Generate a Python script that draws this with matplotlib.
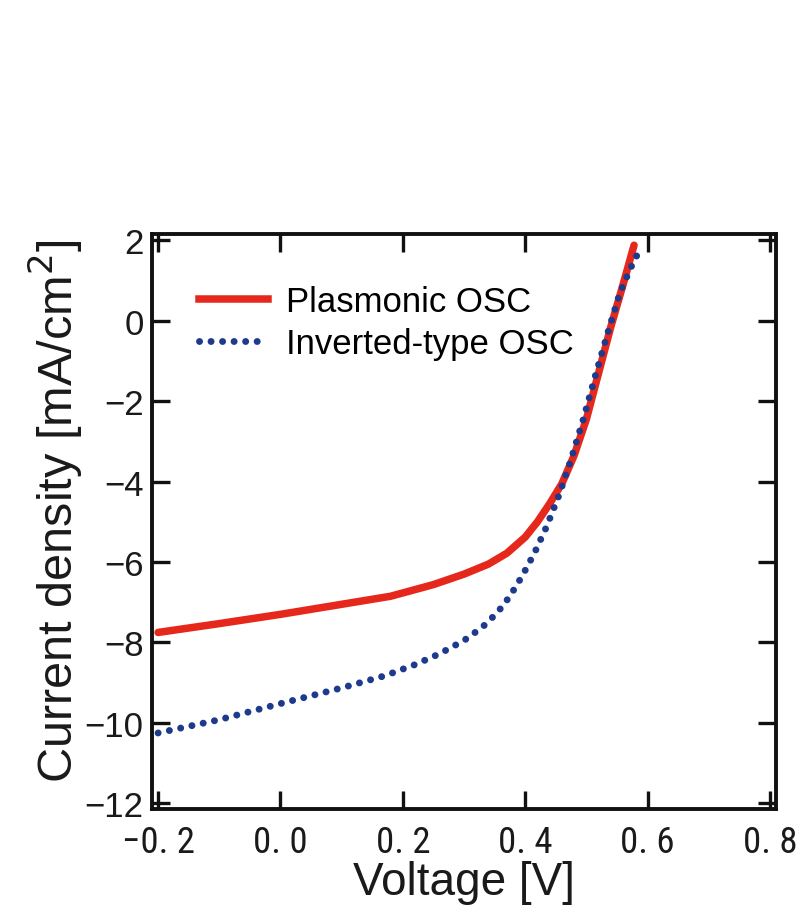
import os
import matplotlib
matplotlib.use("Agg")
import matplotlib.pyplot as plt
from matplotlib import font_manager as fm
from matplotlib.lines import Line2D

# J-V characteristics of the two organic solar cells
voltage_plasmonic = [-0.20, -0.10, 0.00, 0.10, 0.18, 0.25, 0.30, 0.34, 0.37, 0.40,
                     0.42, 0.44, 0.46, 0.48, 0.50, 0.52, 0.54, 0.56, 0.578]
current_plasmonic = [-7.75, -7.53, -7.30, -7.05, -6.85, -6.56, -6.30, -6.05, -5.78, -5.38,
                     -5.00, -4.55, -4.05, -3.35, -2.45, -1.30, -0.15, 0.90, 1.88]

voltage_inverted = [-0.20, -0.10, 0.00, 0.10, 0.17, 0.22, 0.26, 0.30, 0.33, 0.355,
                    0.375, 0.395, 0.415, 0.435, 0.455, 0.475, 0.495, 0.515, 0.535,
                    0.555, 0.572, 0.585]
current_inverted = [-10.25, -9.92, -9.52, -9.13, -8.83, -8.55, -8.28, -7.95, -7.62, -7.25,
                    -6.85, -6.35, -5.78, -5.12, -4.35, -3.45, -2.45, -1.35, -0.30,
                    0.70, 1.30, 1.70]

series_labels = ["Plasmonic OSC", "Inverted-type OSC"]
x_ticks = [-0.2, 0.0, 0.2, 0.4, 0.6, 0.8]
x_tick_labels = ["\u22120. 2", "0. 0", "0. 2", "0. 4", "0. 6", "0. 8"]
y_ticks = [-12, -10, -8, -6, -4, -2, 0, 2]
y_tick_labels = ["\u221212", "\u221210", "\u22128", "\u22126", "\u22124", "\u22122", "0", "2"]

plt.rcParams["font.family"] = ["Liberation Sans", "DejaVu Sans"]
RED = "#e5281b"
BLUE = "#1d3a8d"


def narrow_font():
    """Return a condensed sans-serif face for the voltage tick labels, if installed."""
    preferred = ["Liberation Sans Narrow", "Arial Narrow", "Nimbus Sans Narrow",
                 "Roboto Condensed", "Noto Sans Condensed", "DejaVu Sans Condensed",
                 "Open Sans Condensed"]
    entries = fm.fontManager.ttflist
    for name in preferred:
        for e in entries:
            if e.name == name and e.style == "normal" and e.weight in (400, "normal", "regular"):
                return e.fname
    bad = ("bold", "italic", "oblique", "light", "medium", "thin", "black",
           "semi", "extra", "ultra", "heavy")
    for e in entries:
        fn = os.path.basename(e.fname).lower()
        if ("narrow" in fn or "condensed" in fn) and not any(b in fn for b in bad):
            return e.fname
    return None


fig = plt.figure(figsize=(7.99, 9.20), dpi=100)
ax = fig.add_axes([0.1902, 0.1196, 0.7810, 0.6250])

ax.plot(voltage_plasmonic, current_plasmonic, color=RED, lw=5.4,
        solid_capstyle="round", zorder=2)
ax.plot(voltage_inverted, current_inverted, color=BLUE, lw=5.0,
        linestyle=(0, (0.01, 1.65)), dash_capstyle="round", zorder=3)

ax.set_xlim(-0.21, 0.81)
ax.set_ylim(-12.14, 2.16)

ax.set_xticks(x_ticks)
narrow = narrow_font()
if narrow:
    ax.set_xticklabels(x_tick_labels, fontproperties=fm.FontProperties(fname=narrow, size=26.5))
else:
    ax.set_xticklabels(x_tick_labels, fontsize=23)
ax.set_yticks(y_ticks)
ax.set_yticklabels(y_tick_labels, fontsize=25)

ax.tick_params(direction="in", length=13, width=2.4, top=True, right=True,
               color="#111111", labelcolor="#1a1a1a")
ax.tick_params(axis="x", pad=11)
ax.tick_params(axis="y", pad=6)
for s in ax.spines.values():
    s.set_linewidth(2.8)
    s.set_color("#111111")

ax.set_xlabel("Voltage [V]", fontsize=33, color="#1a1a1a")
ax.set_ylabel("Current density [mA/cm$^2$]", fontsize=35, color="#1a1a1a")
ax.xaxis.set_label_coords(0.5, -0.088)
ax.yaxis.set_label_coords(-0.107, 0.52)

handles = [Line2D([], [], color=RED, lw=5.4),
           Line2D([], [], color=BLUE, lw=5.0, linestyle=(0, (0.01, 1.65)),
                  dash_capstyle="round")]
ax.legend(handles, series_labels, loc="upper left", bbox_to_anchor=(0.053, 0.936),
          frameon=False, fontsize=25, handlelength=2.0, handletextpad=0.5,
          labelspacing=0.27, borderaxespad=0.0)

fig.savefig("out.png", dpi=100, facecolor="white")
